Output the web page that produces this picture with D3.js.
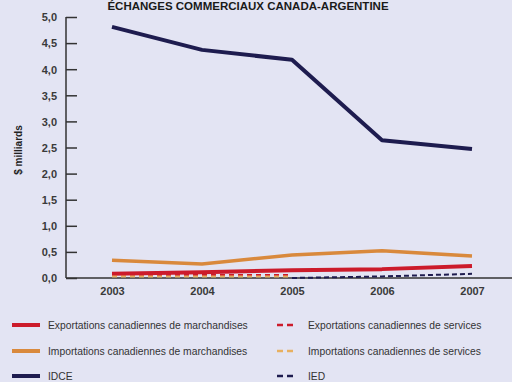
<!DOCTYPE html>
<html><head><meta charset="utf-8">
<script src="https://cdn.jsdelivr.net/npm/d3@7"></script>
<style>
html,body{margin:0;padding:0;background:#e3e4f3;}
svg{display:block;}
text{font-family:"Liberation Sans",Arial,sans-serif;}
</style></head>
<body>
<svg id="c" width="512" height="382"></svg>
<script>
const years = ["2003","2004","2005","2006","2007"];
const yTicks = [0,0.5,1,1.5,2,2.5,3,3.5,4,4.5,5];
const idce = [4.81, 4.37, 4.18, 2.64, 2.47];
const impMarch = [0.34, 0.27, 0.44, 0.52, 0.42];
const expMarch = [0.08, 0.11, 0.15, 0.17, 0.23];
const expServ = [0.05, 0.05, 0.05, null, null];
const impServ = [0.03, 0.03, 0.03, null, null];
const ied = [null, null, 0.0, 0.03, 0.08];
const title = "ÉCHANGES COMMERCIAUX CANADA-ARGENTINE";
const yLabel = "$ milliards";

const series = [
  {name:"Exportations canadiennes de marchandises", values:expMarch, color:"#cc1b2b", dash:null, w:4},
  {name:"Exportations canadiennes de services", values:expServ, color:"#cc1b2b", dash:"5,4", w:3},
  {name:"Importations canadiennes de marchandises", values:impMarch, color:"#d9893c", dash:null, w:3.5},
  {name:"Importations canadiennes de services", values:impServ, color:"#e8b060", dash:"5,4", w:2},
  {name:"IDCE", values:idce, color:"#1e1c4f", dash:null, w:4},
  {name:"IED", values:ied, color:"#1e1c4f", dash:"5,3", w:2}
];

const svg = d3.select("#c");
const x = d3.scalePoint().domain(years).range([112, 472]);
const y = d3.scaleLinear().domain([0,5]).range([278, 17]);

svg.append("text").attr("x",248).attr("y",10).attr("text-anchor","middle")
  .attr("font-size",11.5).attr("font-weight","bold").attr("fill","#1a1a1a").text(title);

const narrow = "Liberation Sans Narrow, Liberation Sans, sans-serif";

// y axis
const ya = svg.append("g").attr("transform","translate(66,0)")
  .call(d3.axisRight(y).tickValues(yTicks).tickSize(11).tickFormat(d=>d3.format(".1f")(d).replace(".",",")));
ya.select(".domain").attr("stroke","#333").attr("stroke-width",1.5).attr("d","M0,17V278");
ya.selectAll(".tick line").attr("stroke","#333").attr("stroke-width",1.5);
ya.selectAll(".tick text").attr("x",-9).attr("text-anchor","end").attr("dy","0.35em")
  .attr("font-size",11).attr("font-weight","bold").attr("fill","#3a3a3a").attr("font-family",narrow);

// x axis
const xa = svg.append("g").attr("transform","translate(0,278)")
  .call(d3.axisBottom(x).tickSize(0).tickPadding(9));
xa.select(".domain").attr("stroke","#333").attr("stroke-width",1.5).attr("d","M66,0H512");
xa.selectAll(".tick text").attr("font-size",11).attr("font-weight","bold").attr("fill","#3a3a3a")
  .attr("font-family",narrow);

svg.append("text").attr("transform","translate(22,150) rotate(-90)").attr("text-anchor","middle")
  .attr("font-size",10).attr("font-weight","bold").attr("fill","#222").text(yLabel);

const line = d3.line().defined(d=>d!=null).x((d,i)=>x(years[i])).y(d=>y(d));
const order = [2,0,1,3,5,4];
order.forEach(k=>{
  const s = series[k];
  svg.append("path").attr("d", line(s.values))
    .attr("fill","none").attr("stroke",s.color).attr("stroke-width",s.w)
    .attr("stroke-dasharray",s.dash).attr("stroke-linejoin","round");
});

// legend
const lg = svg.append("g");
const rowsY = [325, 351, 376];
series.forEach((s,i)=>{
  const col = i%2, row = Math.floor(i/2);
  const sx = col===0 ? 12 : 277, tx = col===0 ? 48 : 308;
  const yy = rowsY[row];
  lg.append("line").attr("x1",sx).attr("x2",col===0?40:297).attr("y1",yy).attr("y2",yy)
    .attr("stroke",s.color).attr("stroke-width",s.dash?2.5:4).attr("stroke-dasharray",s.dash?"6,4":null);
  lg.append("text").attr("x",tx).attr("y",yy).attr("dy","0.35em").attr("font-size",10.3)
    .attr("fill","#333").attr("font-family",narrow).text(s.name);
});
</script>
</body></html>
